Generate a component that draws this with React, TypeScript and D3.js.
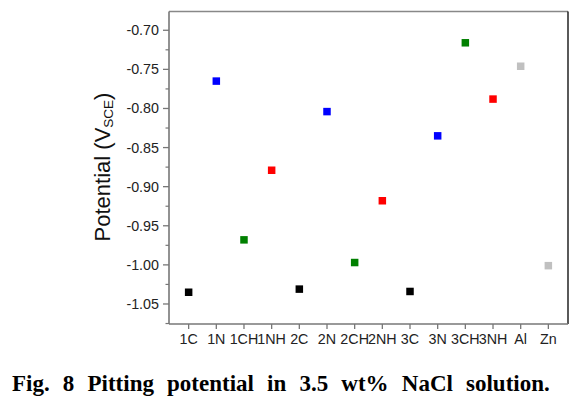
import React from 'react';
import * as d3 from 'd3';

const categories = ['1C', '1N', '1CH', '1NH', '2C', '2N', '2CH', '2NH', '3C', '3N', '3CH', '3NH', 'Al', 'Zn'];
const potentials = [-1.035, -0.765, -0.968, -0.879, -1.031, -0.804, -0.997, -0.918, -1.034, -0.835, -0.716, -0.788, -0.746, -1.001];
const markerColors = ['#000000', '#0000ff', '#008000', '#ff0000', '#000000', '#0000ff', '#008000', '#ff0000', '#000000', '#0000ff', '#008000', '#ff0000', '#c0c0c0', '#c0c0c0'];
const yTicks = [-0.7, -0.75, -0.8, -0.85, -0.9, -0.95, -1.0, -1.05];
const yMinorTicks = [-0.725, -0.775, -0.825, -0.875, -0.925, -0.975, -1.025, -1.075];
const caption = 'Fig. 8 Pitting potential in 3.5 wt% NaCl solution.';

const W = 588, H = 402;
const L = 169, R = 568, T = 11.5, B = 324;

export default function App() {
  const x = d3.scaleLinear().domain([-0.71, categories.length - 1 + 0.71]).range([L, R]);
  const y = d3.scaleLinear().domain([-1.0756, -0.676]).range([B, T]);
  const ms = 7.5;
  const font = 'Liberation Sans, Arial, sans-serif';
  return (
    <svg width={W} height={H} style={{ position: 'absolute', left: 0, top: 0, background: '#fff' }}>
      <rect x={0} y={0} width={W} height={H} fill="#fff" />
      {/* frame */}
      <line x1={L} x2={R} y1={T} y2={T} stroke="#888" strokeWidth={1.3} />
      <line x1={R} x2={R} y1={T} y2={B} stroke="#000" strokeWidth={1.3} />
      <line x1={L} x2={L} y1={T} y2={B} stroke="#777" strokeWidth={1.6} />
      <line x1={L} x2={R} y1={B} y2={B} stroke="#777" strokeWidth={1.6} />
      {/* y ticks */}
      {yTicks.map((t) => (
        <g key={t}>
          <line x1={L - 6} x2={L} y1={y(t)} y2={y(t)} stroke="#777" strokeWidth={1.3} />
          <text x={L - 10} y={y(t)} dy="0.35em" textAnchor="end" fontFamily={font} fontSize={14.3} fill="#222">
            {d3.format('.2f')(t).replace('−', '-')}
          </text>
        </g>
      ))}
      {yMinorTicks.map((t) => (
        <line key={t} x1={L - 3.5} x2={L} y1={y(t)} y2={y(t)} stroke="#777" strokeWidth={1.2} />
      ))}
      {/* x ticks */}
      {categories.map((c, i) => (
        <g key={c}>
          <line x1={x(i)} x2={x(i)} y1={B} y2={B + 5} stroke="#777" strokeWidth={1.3} />
          <text x={x(i)} y={B + 20} textAnchor="middle" fontFamily={font} fontSize={14.3} fill="#222">
            {c}
          </text>
        </g>
      ))}
      {/* markers */}
      {potentials.map((v, i) => (
        <rect key={i} x={x(i) - ms / 2} y={y(v) - ms / 2} width={ms} height={ms} fill={markerColors[i]} />
      ))}
      {/* y label */}
      <text transform={`translate(110,167) rotate(-90)`} textAnchor="middle" fontFamily={font} fontSize={22} fill="#111">
        Potential (V<tspan fontSize={13.5} dy={3}>SCE</tspan><tspan dy={-3}>)</tspan>
      </text>
      {/* caption */}
      <text x={12} y={391} fontFamily="'Liberation Serif', 'Times New Roman', serif" fontWeight="bold" fontSize={23} fill="#000" style={{ wordSpacing: '7.4px' }}>
        {caption}
      </text>
    </svg>
  );
}
